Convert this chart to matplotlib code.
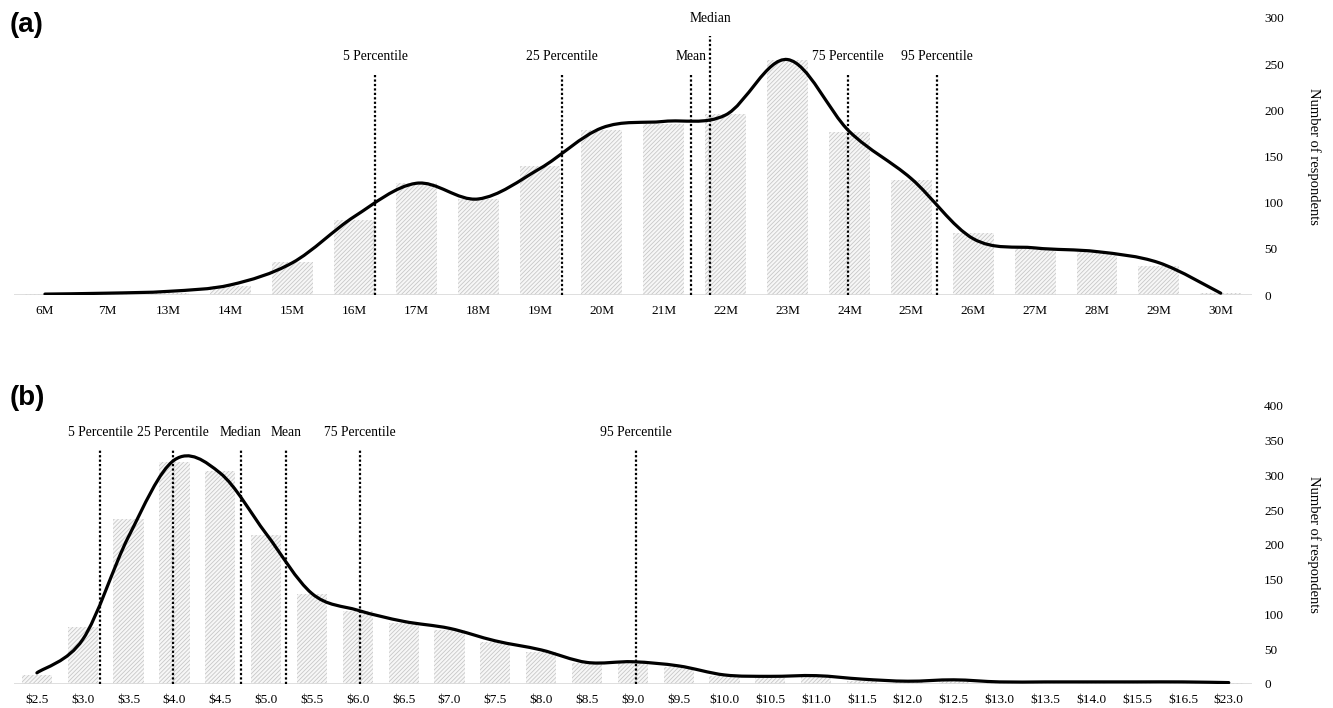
import numpy as np
import matplotlib.pyplot as plt
from matplotlib.path import Path
from matplotlib.patches import PathPatch

plt.rcParams['font.family'] = ['Liberation Serif', 'DejaVu Serif']
plt.rcParams['hatch.linewidth'] = 0.6

# panel (a): income in millions
cats_a = ['6M', '7M', '13M', '14M', '15M', '16M', '17M', '18M', '19M', '20M',
          '21M', '22M', '23M', '24M', '25M', '26M', '27M', '28M', '29M', '30M']
bars_a = [1, 1, 2, 10, 36, 81, 121, 104, 140, 179,
          185, 196, 255, 176, 125, 67, 51, 47, 31, 2]
curve_a = [1, 2, 4, 11, 35, 85, 121, 104, 137, 181,
           188, 195, 255, 177, 126, 61, 51, 47, 35, 2]
stats_a = ['5 Percentile', '25 Percentile', 'Mean', 'Median', '75 Percentile', '95 Percentile']
stats_a_pos = [5.34, 8.35, 10.44, 10.75, 12.97, 14.42]
stats_a_top = [239, 239, 239, 281, 239, 239]
stats_a_lab = [258, 258, 258, 299, 258, 258]

# panel (b): price in dollars
cats_b = ['$2.5', '$3.0', '$3.5', '$4.0', '$4.5', '$5.0', '$5.5', '$6.0', '$6.5',
          '$7.0', '$7.5', '$8.0', '$8.5', '$9.0', '$9.5', '$10.0', '$10.5', '$11.0',
          '$11.5', '$12.0', '$12.5', '$13.0', '$13.5', '$14.0', '$15.5', '$16.5', '$23.0']
bars_b = [13, 82, 237, 319, 306, 214, 129, 105, 87,
          78, 61, 46, 30, 31, 25, 11, 8, 10,
          4, 3, 4, 2, 2, 2, 2, 2, 2]
curve_b = [16, 64, 212, 322, 303, 216, 130, 106, 90,
           80, 62, 49, 31, 32, 26, 13, 11, 12,
           7, 4, 6, 3, 3, 3, 3, 3, 2]
stats_b = ['5 Percentile', '25 Percentile', 'Median', 'Mean', '75 Percentile', '95 Percentile']
stats_b_pos = [1.38, 2.96, 4.45, 5.43, 7.05, 13.06]
stats_b_top = [338] * 6
stats_b_lab = [362] * 6


def smooth_path(x, y, t=1 / 6):
    # catmull-rom style bezier through all points (like excel "smoothed line")
    x = np.asarray(x, float)
    y = np.asarray(y, float)
    n = len(x)
    verts = [(x[0], y[0])]
    codes = [Path.MOVETO]
    for i in range(n - 1):
        p0 = i - 1 if i > 0 else i
        p3 = i + 2 if i + 2 < n else i + 1
        c1 = (x[i] + (x[i + 1] - x[p0]) * t, y[i] + (y[i + 1] - y[p0]) * t)
        c2 = (x[i + 1] - (x[p3] - x[i]) * t, y[i + 1] - (y[p3] - y[i]) * t)
        verts += [c1, c2, (x[i + 1], y[i + 1])]
        codes += [Path.CURVE4] * 3
    return Path(verts, codes)


def draw_panel(ax, cats, bars, curve, stats, pos, tops, labs, ymax):
    x = np.arange(len(cats))
    ax.bar(x, bars, width=0.66, facecolor='#f7f7f7', edgecolor='#c8c8c8',
           hatch='////////', linewidth=0, zorder=1)
    ax.add_patch(PathPatch(smooth_path(x, curve), fill=False, lw=2.3,
                           edgecolor='black', capstyle='round', zorder=4))
    for name, p, top, ly in zip(stats, pos, tops, labs):
        ax.plot([p, p], [0, top], ls=(0, (1, 1)), color='black', lw=1.6, zorder=3)
        ax.text(p, ly, name, ha='center', va='center', fontsize=9.8)
    ax.axhline(0, color='#d9d9d9', lw=1.2, zorder=2)
    ax.set_xlim(-0.5, len(cats) - 0.5)
    ax.set_ylim(0, ymax)
    ax.set_xticks(x)
    ax.set_xticklabels(cats, fontsize=9.5)
    ax.set_yticks(np.arange(0, ymax + 1, 50))
    ax.yaxis.tick_right()
    ax.tick_params(axis='x', length=0, pad=7)
    ax.tick_params(axis='y', length=0, pad=9, labelsize=9.5)
    for s in ax.spines.values():
        s.set_visible(False)
    ax.set_ylabel('Number of respondents', rotation=270, fontsize=10.5, va='center')
    ax.yaxis.set_label_position('right')
    ax.yaxis.set_label_coords(1.056, 0.5)
    ax.patch.set_alpha(0)


fig = plt.figure(figsize=(13.33, 7.08), dpi=100)
ax_a = fig.add_axes([0.0105, 0.5833, 0.9285, 0.3913])
ax_b = fig.add_axes([0.0105, 0.0339, 0.9285, 0.3931])

draw_panel(ax_a, cats_a, bars_a, curve_a, stats_a, stats_a_pos, stats_a_top, stats_a_lab, 300)
draw_panel(ax_b, cats_b, bars_b, curve_b, stats_b, stats_b_pos, stats_b_top, stats_b_lab, 400)

fig.text(0.007, 1 - 25 / 708, '(a)', fontsize=20, fontweight='bold',
         family='Liberation Sans', va='center', ha='left')
fig.text(0.007, 1 - 398 / 708, '(b)', fontsize=20, fontweight='bold',
         family='Liberation Sans', va='center', ha='left')

fig.savefig('out.png', dpi=100)
